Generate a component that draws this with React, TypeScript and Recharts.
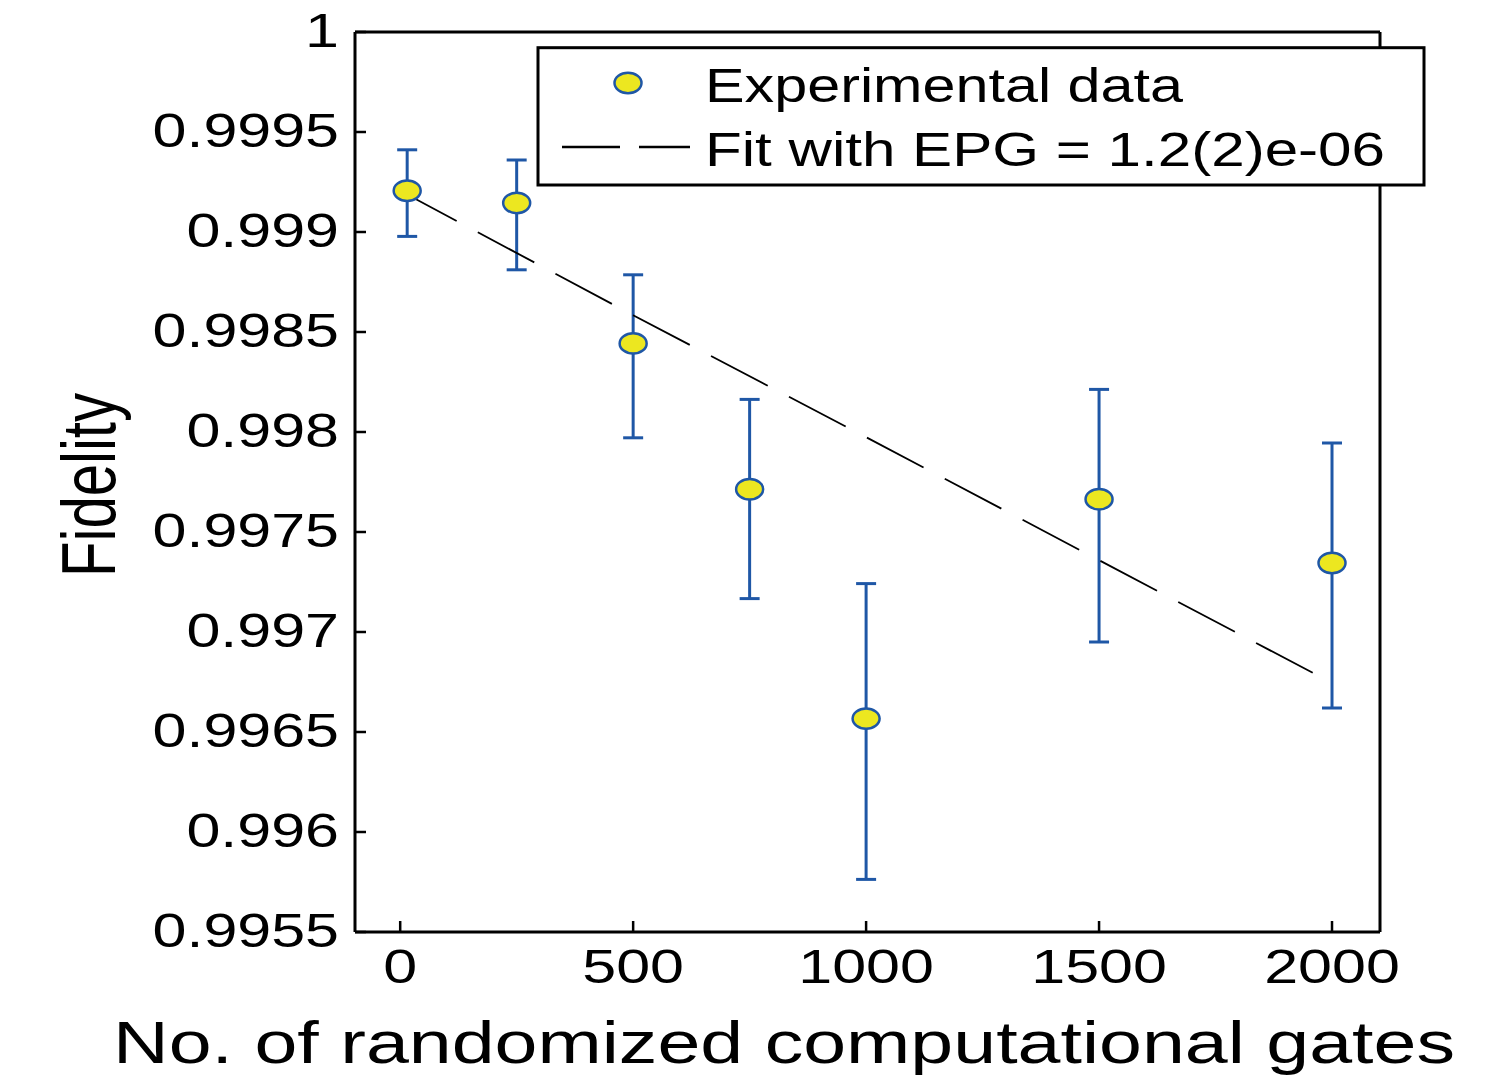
import {
  ComposedChart,
  Customized,
  ErrorBar,
  Line,
  Scatter,
  XAxis,
  YAxis,
} from 'recharts';

// measured points (gates, fidelity, error below / above)
const gates = [15, 250, 500, 750, 1000, 1500, 2000];
const fidelity = [0.999206, 0.999145, 0.998443, 0.997714, 0.996567, 0.997664, 0.997345];
const errBelow = [0.000228, 0.000334, 0.000472, 0.000547, 0.000804, 0.000714, 0.000725];
const errAbove = [0.000205, 0.000215, 0.000343, 0.000449, 0.000675, 0.000549, 0.0006];

// fit curve
const fitGates = [0, 500, 1000, 1500, 2000];
const fitFidelity = [0.999206, 0.998584, 0.997974, 0.997359, 0.996745];

const xTicks = [0, 500, 1000, 1500, 2000];
const xTickLabels = ['0', '500', '1000', '1500', '2000'];
const yTicks = [0.9955, 0.996, 0.9965, 0.997, 0.9975, 0.998, 0.9985, 0.999, 0.9995, 1];
const yTickLabels = ['0.9955', '0.996', '0.9965', '0.997', '0.9975', '0.998', '0.9985', '0.999', '0.9995', '1'];

const points = gates.map((g, i) => ({
  gates: g,
  fidelity: fidelity[i],
  err: [errBelow[i], errAbove[i]],
}));
const fit = fitGates.map((g, i) => ({ gates: g, fidelity: fitFidelity[i] }));

const FONT = '"Liberation Sans", Arial, Helvetica, sans-serif';
const BLUE = '#1F57A6';
const YELLOW = '#ECE720';
const STRETCH = 1.27;

function Marker({ cx, cy }: any) {
  if (cx == null || cy == null) return null;
  return <ellipse cx={cx} cy={cy} rx={13.5} ry={10.2} fill={YELLOW} stroke={BLUE} strokeWidth={2.5} />;
}

function XTick({ x, payload }: any) {
  const label = xTickLabels[xTicks.indexOf(payload.value)] ?? String(payload.value);
  return (
    <g transform={`translate(${x},975) scale(${STRETCH},1)`}>
      <text x={0} y={0} textAnchor="middle" fontSize={48} fontFamily={FONT} fill="#000">
        {label}
      </text>
    </g>
  );
}

function YTick({ x, y, payload }: any) {
  const label = yTickLabels[yTicks.indexOf(payload.value)] ?? String(payload.value);
  return (
    <g transform={`translate(${x},${y + 15}) scale(${STRETCH},1)`}>
      <text x={0} y={0} textAnchor="end" fontSize={48} fontFamily={FONT} fill="#000">
        {label}
      </text>
    </g>
  );
}

function AxisTitles() {
  return (
    <g>
      <text
        x={105}
        y={1055}
        fontSize={60}
        fontFamily={FONT}
        fill="#000"
        textLength={1342}
        lengthAdjust="spacingAndGlyphs"
      >
        No. of randomized computational gates
      </text>
      <g transform={`translate(107,477) scale(${STRETCH},1) rotate(-90)`}>
        <text
          x={0}
          y={0}
          textAnchor="middle"
          fontSize={60}
          fontFamily={FONT}
          fill="#000"
          textLength={184}
          lengthAdjust="spacingAndGlyphs"
        >
          Fidelity
        </text>
      </g>
    </g>
  );
}

// legend sits over the right axis line, so it goes in its own layer on top
function LegendBox() {
  return (
    <svg
      width={1496}
      height={1073}
      style={{ position: 'absolute', left: 0, top: 0, pointerEvents: 'none' }}
    >
      <rect x={530} y={39.7} width={886} height={137.3} fill="#fff" stroke="#000" strokeWidth={3} />
      <ellipse cx={620} cy={75} rx={13.5} ry={10.2} fill={YELLOW} stroke={BLUE} strokeWidth={2.5} />
      <line x1={554} y1={139} x2={682} y2={139} stroke="#000" strokeWidth={2.5} strokeDasharray="58 19" />
      <text
        x={697}
        y={94}
        fontSize={48}
        fontFamily={FONT}
        fill="#000"
        textLength={478}
        lengthAdjust="spacingAndGlyphs"
      >
        Experimental data
      </text>
      <text
        x={697}
        y={158}
        fontSize={48}
        fontFamily={FONT}
        fill="#000"
        textLength={680}
        lengthAdjust="spacingAndGlyphs"
      >
        Fit with EPG = 1.2(2)e-06
      </text>
    </svg>
  );
}

export default function App() {
  const axisLine = { stroke: '#000', strokeWidth: 3 };
  const tickLine = { stroke: '#000', strokeWidth: 2.5 };
  return (
    <div style={{ position: 'relative', width: 1496, height: 1073, background: '#fff' }}>
      <ComposedChart
        width={1496}
        height={1073}
        margin={{ top: 0, right: 0, bottom: 0, left: 0 }}
        style={{ overflow: 'visible' }}
      >
        <XAxis
          xAxisId={0}
          dataKey="gates"
          type="number"
          domain={[-97, 2103]}
          ticks={xTicks}
          allowDataOverflow
          height={149}
          axisLine={axisLine}
          tickLine={tickLine}
          tickSize={-11}
          tickMargin={20}
          tick={<XTick />}
          interval={0}
        />
        <XAxis
          xAxisId="top"
          orientation="top"
          dataKey="gates"
          type="number"
          domain={[-97, 2103]}
          ticks={xTicks}
          allowDataOverflow
          height={24}
          axisLine={axisLine}
          tickLine={tickLine}
          tickSize={-11}
          tick={false}
          interval={0}
        />
        <YAxis
          yAxisId={0}
          type="number"
          domain={[0.9955, 1]}
          ticks={yTicks}
          allowDataOverflow
          width={347}
          axisLine={axisLine}
          tickLine={tickLine}
          tickSize={-11}
          tickMargin={27}
          tick={<YTick />}
          interval={0}
        />
        <YAxis
          yAxisId="right"
          orientation="right"
          type="number"
          domain={[0.9955, 1]}
          ticks={yTicks}
          allowDataOverflow
          width={124}
          axisLine={axisLine}
          tickLine={tickLine}
          tickSize={-11}
          tick={false}
          interval={0}
        />
        <Scatter
          data={points}
          dataKey="fidelity"
          shape={<Marker />}
          isAnimationActive={false}
        >
          <ErrorBar dataKey="err" direction="y" width={10} stroke={BLUE} strokeWidth={3} />
        </Scatter>
        <Line
          data={fit}
          dataKey="fidelity"
          type="linear"
          stroke="#000"
          strokeWidth={1.8}
          strokeDasharray="64 24"
          dot={false}
          activeDot={false}
          isAnimationActive={false}
        />
        <Customized component={AxisTitles} />
      </ComposedChart>
      <LegendBox />
    </div>
  );
}
